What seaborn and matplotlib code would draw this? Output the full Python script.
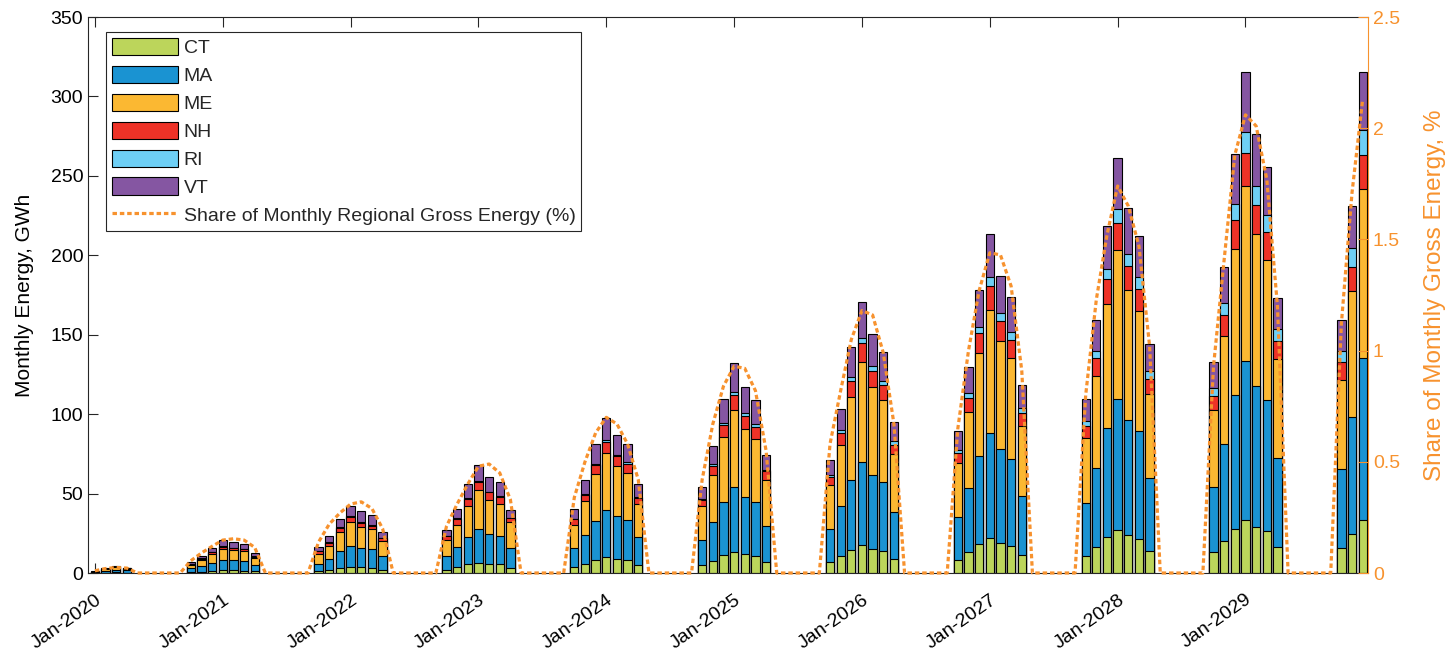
#!/usr/bin/env python3
"""
Monthly heating-season energy by state (stacked bars) with share of
regional gross energy (dotted line, right axis).
"""

import numpy as np
import pandas as pd
import matplotlib
matplotlib.use("Agg")
import matplotlib.pyplot as plt
import seaborn as sns
from matplotlib.patches import Patch
from matplotlib.lines import Line2D

# ---- data (GWh per heating month: Jan-Apr 2020, Oct-Apr seasons, Oct-Dec 2029) ----
states = ["CT", "MA", "ME", "NH", "RI", "VT"]

ct = [0.1, 0.3, 0.4, 0.3,
      0.5, 0.8, 1.2, 1.7, 1.6, 1.5, 1.0,
      1.3, 2.1, 2.9, 3.6, 3.6, 3.4, 2.1,
      2.1, 3.6, 5.5, 6.3, 5.9, 5.5, 3.4,
      3.8, 5.9, 8.4, 9.9, 8.8, 8.0, 5.0,
      5.2, 7.8, 11.3, 13.2, 12.0, 10.9, 6.7,
      6.7, 10.5, 14.7, 17.6, 15.3, 14.1, 9.0,
      8.4, 13.0, 18.3, 22.0, 18.9, 17.2, 11.1,
      10.6, 16.3, 22.6, 27.3, 23.7, 21.6, 13.7,
      13.1, 19.9, 27.9, 33.2, 29.0, 26.2, 16.3,
      15.7, 24.3, 33.6]
ma = [0.4, 1.2, 1.7, 1.3,
      2.4, 3.8, 5.3, 6.7, 6.4, 6.1, 4.3,
      4.6, 6.5, 10.7, 13.6, 12.2, 11.5, 8.4,
      8.8, 12.6, 17.2, 21.4, 18.9, 17.8, 12.6,
      12.0, 17.8, 24.6, 30.0, 26.9, 25.6, 17.4,
      15.7, 24.3, 33.4, 40.7, 35.7, 33.6, 23.1,
      21.0, 31.5, 43.7, 52.3, 46.6, 43.0, 29.2,
      26.9, 40.5, 55.2, 66.1, 59.2, 54.6, 37.2,
      33.2, 50.1, 68.7, 82.5, 72.8, 67.7, 45.9,
      40.8, 61.3, 84.0, 100.5, 88.8, 82.5, 56.0,
      49.9, 73.8, 101.5]
me = [0.3, 0.9, 1.4, 1.1,
      2.3, 3.7, 5.4, 6.6, 6.3, 6.1, 4.0,
      6.3, 8.4, 12.0, 14.7, 13.2, 12.6, 9.4,
      9.7, 14.3, 19.7, 24.3, 21.4, 20.4, 16.0,
      14.3, 21.4, 29.4, 35.7, 31.5, 29.4, 21.2,
      21.4, 29.4, 40.9, 48.9, 43.2, 39.9, 29.0,
      27.5, 38.8, 52.3, 62.8, 55.2, 51.6, 36.7,
      34.0, 47.6, 65.1, 77.7, 67.8, 63.6, 44.5,
      41.2, 57.7, 78.3, 93.3, 81.6, 75.7, 52.9,
      48.4, 68.1, 92.2, 110.0, 95.8, 88.4, 62.4,
      55.8, 79.3, 106.8]
nh = [0.05, 0.2, 0.3, 0.2,
      0.4, 0.8, 1.1, 1.4, 1.3, 1.2, 0.9,
      1.5, 2.1, 2.7, 3.1, 2.5, 2.4, 2.1,
      2.5, 3.6, 4.2, 5.0, 4.6, 4.2, 2.5,
      3.6, 4.2, 5.7, 6.9, 6.3, 5.9, 3.6,
      3.8, 6.1, 7.3, 9.0, 7.8, 7.6, 5.2,
      5.2, 7.3, 9.9, 11.8, 10.3, 9.4, 5.9,
      6.3, 9.0, 12.6, 14.7, 12.6, 11.5, 8.0,
      7.8, 11.0, 15.2, 17.3, 15.4, 14.0, 9.9,
      9.3, 12.9, 18.0, 20.5, 18.0, 17.3, 11.6,
      11.2, 15.4, 21.2]
ri = [0.02, 0.05, 0.1, 0.05,
      0.1, 0.2, 0.2, 0.3, 0.3, 0.3, 0.2,
      0.2, 0.3, 0.4, 0.6, 0.5, 0.5, 0.3,
      0.3, 0.4, 0.5, 0.6, 0.5, 0.5, 0.3,
      0.4, 0.5, 0.7, 1.0, 0.8, 0.7, 0.5,
      0.5, 0.8, 1.5, 1.9, 2.1, 1.9, 1.0,
      1.3, 1.7, 2.9, 3.6, 2.7, 2.9, 2.1,
      2.1, 3.1, 3.8, 5.7, 5.2, 4.6, 3.1,
      2.7, 4.9, 6.3, 8.5, 7.4, 7.6, 4.9,
      4.7, 7.8, 9.9, 13.3, 12.1, 10.8, 7.4,
      7.4, 11.6, 15.9]
vt = [0.1, 0.4, 0.6, 0.5,
      1.0, 1.6, 2.5, 3.9, 3.4, 3.3, 2.2,
      2.7, 4.2, 5.3, 6.7, 6.9, 6.3, 3.6,
      3.4, 5.5, 9.0, 10.3, 9.0, 8.8, 5.0,
      5.9, 8.6, 12.6, 14.1, 12.8, 11.5, 8.2,
      7.3, 11.3, 15.3, 18.5, 16.0, 15.3, 9.4,
      9.2, 13.6, 18.9, 22.7, 20.4, 18.1, 12.2,
      11.5, 16.4, 23.1, 26.9, 23.5, 22.0, 14.7,
      14.2, 19.5, 27.5, 32.4, 28.6, 25.4, 16.9,
      16.3, 22.8, 31.7, 37.6, 32.8, 30.5, 19.7,
      19.0, 26.4, 36.2]

# share of monthly regional gross energy, % (same heating months; 0 in summer)
share_pct = [0.01, 0.02, 0.025, 0.022,
             0.055, 0.09, 0.12, 0.148, 0.154, 0.148, 0.115,
             0.14, 0.22, 0.27, 0.31, 0.32, 0.29, 0.20,
             0.21, 0.31, 0.40, 0.48, 0.49, 0.45, 0.33,
             0.34, 0.50, 0.63, 0.70, 0.67, 0.58, 0.42,
             0.42, 0.67, 0.84, 0.93, 0.92, 0.82, 0.55,
             0.58, 0.82, 1.05, 1.18, 1.16, 0.99, 0.67,
             0.65, 1.00, 1.27, 1.44, 1.43, 1.29, 0.91,
             0.80, 1.23, 1.52, 1.74, 1.65, 1.47, 1.02,
             0.93, 1.41, 1.88, 2.06, 2.01, 1.77, 1.20,
             1.12, 1.71, 2.13]

state_colors = {
    "CT": "#BCD55B",
    "MA": "#1A93D2",
    "ME": "#FBB832",
    "NH": "#EE3227",
    "RI": "#6ECFF5",
    "VT": "#8556A2",
}
SHARE_COLOR = "#F7922E"
AXIS_COLOR = "#262626"

# ---- assemble monthly frame ----
all_months = pd.date_range("2020-01-01", "2029-12-01", freq="MS")
heating = all_months[all_months.month.isin([10, 11, 12, 1, 2, 3, 4])]

df = pd.DataFrame(dict(zip(states, [ct, ma, me, nh, ri, vt])), index=heating)
df["share"] = share_pct
df = df.reindex(all_months)
df["share"] = df["share"].fillna(0.0)  # line rests on zero May-Sep
df["month_idx"] = np.arange(len(df))

cum = df[states].cumsum(axis=1)
cum["month_idx"] = df["month_idx"]

# ---- plot ----
sns.set_theme(style="white")
plt.rcParams["font.family"] = ["Liberation Sans", "DejaVu Sans"]

fig = plt.figure(figsize=(14.47, 6.56), dpi=100)
ax = fig.add_axes([88 / 1447, 1 - 573 / 656, 1280 / 1447, 556 / 656])

# stacked bars: draw cumulative totals from the top layer down
for st in reversed(states):
    sns.barplot(data=cum, x="month_idx", y=st, native_scale=True,
                color=state_colors[st], saturation=1, width=0.78,
                edgecolor="black", linewidth=0.8, errorbar=None, ax=ax)

ax2 = ax.twinx()
sns.lineplot(data=df, x="month_idx", y="share", ax=ax2, color=SHARE_COLOR,
             linewidth=2.3, linestyle=(0, (1.4, 0.9)), clip_on=False)

ax.set_xlim(-0.65, 119.5)
ax.set_ylim(0, 350)
ax2.set_ylim(0, 2.5)

jan_idx = df.loc[df.index.month == 1, "month_idx"].tolist()
jan_labels = [d.strftime("Jan-%Y") for d in df.index[df.index.month == 1]]
ax.set_xticks(jan_idx)
ax.set_xticklabels(jan_labels, rotation=35, ha="right", va="top",
                   rotation_mode="anchor")
ax.set_yticks(range(0, 351, 50))
ax2.set_yticks([0, 0.5, 1, 1.5, 2, 2.5])
ax2.set_yticklabels(["0", "0.5", "1", "1.5", "2", "2.5"])

ax.set_xlabel("")
ax.set_ylabel("Monthly Energy, GWh", fontsize=15, color="black", labelpad=12)
ax2.set_ylabel("Share of Monthly Gross Energy, %", fontsize=17.5,
               color=SHARE_COLOR, labelpad=17)

ax.tick_params(axis="x", direction="in", length=7, width=0.8, top=True,
               bottom=True, labelsize=14, colors=AXIS_COLOR, pad=13)
ax.tick_params(axis="y", direction="in", length=7, width=0.8, left=True,
               labelsize=14, colors=AXIS_COLOR)
ax.tick_params(axis="both", labelcolor="black")
ax2.tick_params(axis="y", direction="in", length=7, width=0.8, right=True,
                labelsize=14, colors=SHARE_COLOR)

for name, sp in ax.spines.items():
    sp.set_visible(True)
    sp.set_color(AXIS_COLOR)
    sp.set_linewidth(0.8)
for name in ["left", "top", "bottom"]:
    ax2.spines[name].set_visible(False)
ax2.spines["right"].set_color(SHARE_COLOR)
ax2.spines["right"].set_linewidth(0.8)
ax.spines["right"].set_visible(False)

handles = [Patch(facecolor=state_colors[st], edgecolor="black", linewidth=0.8)
           for st in states]
handles.append(Line2D([0], [0], color=SHARE_COLOR, linewidth=2.3,
                      linestyle=(0, (1.4, 0.9))))
labels = states + ["Share of Monthly Regional Gross Energy (%)"]
leg = ax2.legend(handles, labels, loc="upper left",
                 bbox_to_anchor=(106 / 1447, 1 - 32 / 656),
                 bbox_transform=fig.transFigure, borderaxespad=0,
                 fontsize=14, handlelength=3.4, handleheight=1.0,
                 labelspacing=0.44, handletextpad=0.3, borderpad=0.3,
                 fancybox=False, framealpha=1)
leg.get_frame().set_edgecolor(AXIS_COLOR)
leg.get_frame().set_linewidth(0.8)

fig.savefig("out.png", dpi=100)
